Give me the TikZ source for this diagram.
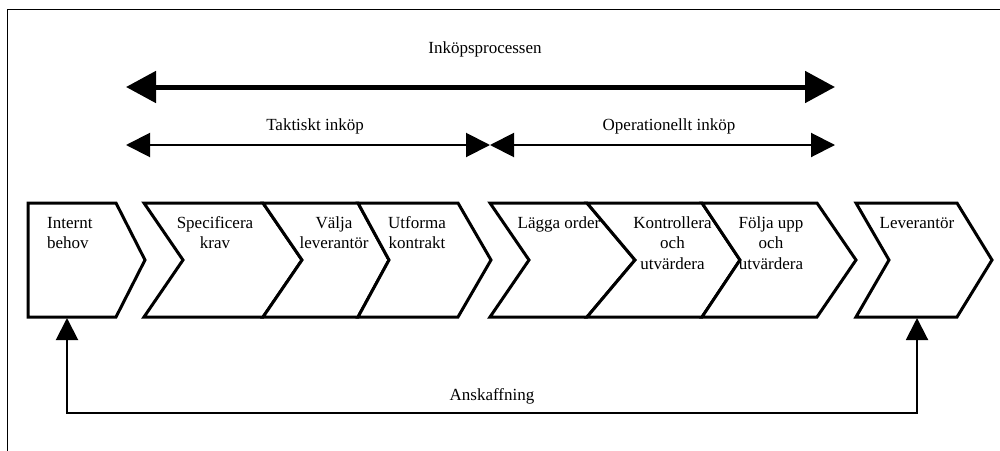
\documentclass[tikz,border=0pt]{standalone}
\usepackage{fontspec}
\setmainfont{Liberation Serif}
\usetikzlibrary{arrows.meta}

% Draw one process step as a chevron: left x, notch x, right x, point x
\newcommand\chevshape[4]{%
  \draw[chev] (#1,203) -- (#3,203) -- (#4,260) -- (#3,317) -- (#1,317) -- (#2,260) -- cycle;}

\begin{document}
\begin{tikzpicture}[x=1pt,y=-1pt,
  chev/.style={draw=black, fill=white, line width=3pt, line join=miter},
  lbl/.style={inner sep=0pt, font=\fontsize{17}{20.5}\selectfont},
  steptext/.style={lbl, anchor=north, align=center},
  bigspan/.style={line width=5pt,
    {Triangle[length=30pt,width=31pt]}-{Triangle[length=30pt,width=31pt]}},
  phasespan/.style={line width=2pt,
    {Triangle[length=24pt,width=24pt]}-{Triangle[length=24pt,width=24pt]}},
  loopline/.style={line width=2pt,
    {Triangle[length=22pt,width=22pt]}-{Triangle[length=22pt,width=22pt]}},
]
\useasboundingbox (0,0) rectangle (1000,450);

% outer frame (only top and left edges fall inside the page)
\draw[line width=1.5pt] (7.5,455) -- (7.5,9.5) -- (1005,9.5);

% whole purchasing process span
\node[lbl, anchor=base] (process) at (485,53) {Inköpsprocessen};
\coordinate (pL) at (126,87);
\coordinate (pR) at (835,87);
\draw[bigspan] (pL) -- (pR);

% tactical and operational spans
\node[lbl, anchor=base] (taktisk) at (315,130) {Taktiskt inköp};
\node[lbl, anchor=base] (operativ) at (669,130) {Operationellt inköp};
\coordinate (tL) at (126,145);
\coordinate (mid) at (490,145);
\coordinate (oR) at (835,145);
\draw[phasespan] (tL) -- (mid);
\draw[phasespan] (mid) -- (oR);

% process steps
\draw[chev] (28,203) -- (116,203) -- (145,260) -- (116,317) -- (28,317) -- cycle;
\chevshape{144}{183}{263}{302}
\chevshape{263}{302}{358}{389}
\chevshape{358}{389}{458}{491}
\chevshape{490}{529}{587}{635}
\chevshape{587}{635}{702}{740}
\chevshape{702}{740}{817}{856}
\chevshape{856}{889}{957}{992}

\node[lbl, anchor=north west, align=left] (behov) at (47,213.6) {\strut Internt\\behov};
\node[steptext] (krav) at (215,213.6) {\strut Specificera\\krav};
\node[steptext] (valja) at (334,213.6) {\strut Välja\\leverantör};
\node[steptext] (kontrakt) at (417,213.6) {\strut Utforma\\kontrakt};
\node[steptext] (order) at (559,213.6) {\strut Lägga order};
\node[steptext] (kontroll) at (672.5,213.6) {\strut Kontrollera\\och\\utvärdera};
\node[steptext] (uppfolj) at (771,213.6) {\strut Följa upp\\och\\utvärdera};
\node[steptext] (lev) at (917,213.6) {\strut Leverantör};

% procurement loop from supplier back to internal need
\coordinate (behovfoot) at (67,318);
\coordinate (levfoot) at (917,318);
\coordinate (ansk) at (492,413);
\draw[loopline] (behovfoot) |- (ansk) -| (levfoot);
\node[lbl, anchor=base] (anskaffning) at (492,400) {Anskaffning};
\end{tikzpicture}
\end{document}
